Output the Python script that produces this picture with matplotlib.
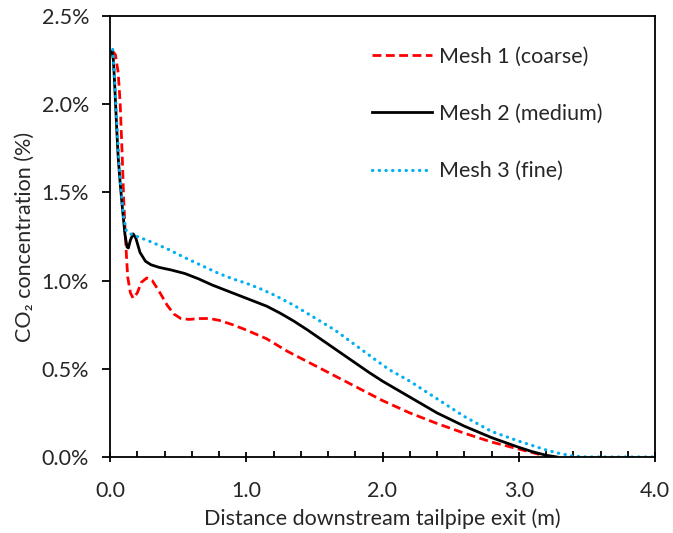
import matplotlib
matplotlib.use("Agg")
import matplotlib.pyplot as plt
from matplotlib.ticker import MultipleLocator, PercentFormatter

# DATA (CO2 concentration in %, distance in m)
MESH1_X = [0.02, 0.04, 0.06, 0.075, 0.09, 0.10, 0.11, 0.12, 0.13, 0.15, 0.17, 0.20, 0.23, 0.27,
           0.31, 0.36, 0.42, 0.47, 0.52, 0.58, 0.66, 0.73, 0.80, 0.90, 1.00, 1.15, 1.30, 1.50,
           1.70, 1.90, 2.00, 2.20, 2.40, 2.60, 2.80, 3.00, 3.10, 3.20, 3.25]
MESH1_Y = [2.30, 2.28, 2.18, 2.00, 1.70, 1.47, 1.30, 1.15, 1.02, 0.93, 0.90, 0.93, 0.99, 1.015,
           1.00, 0.94, 0.86, 0.81, 0.785, 0.78, 0.785, 0.785, 0.775, 0.75, 0.72, 0.67, 0.60, 0.52,
           0.44, 0.36, 0.32, 0.25, 0.19, 0.135, 0.085, 0.045, 0.025, 0.005, 0.0]

MESH2_X = [0.015, 0.025, 0.035, 0.05, 0.06, 0.075, 0.09, 0.10, 0.11, 0.125, 0.135, 0.15, 0.17,
           0.19, 0.22, 0.26, 0.30, 0.36, 0.45, 0.55, 0.65, 0.75, 0.85, 0.95, 1.05, 1.15, 1.25,
           1.35, 1.45, 1.60, 1.75, 1.90, 2.00, 2.20, 2.40, 2.60, 2.80, 3.00, 3.10, 3.20, 3.28]
MESH2_Y = [2.30, 2.25, 2.10, 1.85, 1.70, 1.55, 1.42, 1.34, 1.26, 1.19, 1.185, 1.23, 1.265,
           1.24, 1.16, 1.11, 1.09, 1.075, 1.06, 1.04, 1.01, 0.975, 0.945, 0.915, 0.885, 0.855, 0.815,
           0.77, 0.72, 0.64, 0.56, 0.48, 0.43, 0.34, 0.25, 0.175, 0.11, 0.055, 0.03, 0.01, 0.0]

MESH3_X = [0.02, 0.03, 0.05, 0.07, 0.09, 0.10, 0.12, 0.15, 0.20, 0.30, 0.42, 0.55, 0.66, 0.80,
           0.90, 1.00, 1.10, 1.20, 1.35, 1.50, 1.65, 1.80, 1.95, 2.05, 2.20, 2.40, 2.60, 2.80,
           3.00, 3.10, 3.20, 3.30, 3.40, 3.50, 4.00]
MESH3_Y = [2.31, 2.20, 1.90, 1.62, 1.44, 1.36, 1.28, 1.265, 1.25, 1.22, 1.18, 1.13, 1.09, 1.04,
           1.01, 0.985, 0.955, 0.92, 0.86, 0.79, 0.72, 0.635, 0.55, 0.495, 0.43, 0.33, 0.23, 0.145,
           0.09, 0.065, 0.04, 0.02, 0.005, 0.0, 0.0]

LABELS = ["Mesh 1 (coarse)", "Mesh 2 (medium)", "Mesh 3 (fine)"]

plt.rcParams["font.family"] = ["Lato", "DejaVu Sans"]
TEXT_COLOR = "#262626"
FS = 15.5


def main():
    fig = plt.figure(figsize=(6.73, 5.33), dpi=100)
    ax = fig.add_axes([110 / 673, 1 - 457 / 533, 545 / 673, 441 / 533])

    ax.plot(MESH1_X, MESH1_Y, color="#FF0000", lw=2.0, linestyle=(0, (3.2, 1.6)), label=LABELS[0])
    ax.plot(MESH2_X, MESH2_Y, color="black", lw=2.0, label=LABELS[1])
    ax.plot(MESH3_X, MESH3_Y, color="#00B0F0", lw=2.3, linestyle=(0, (0.1, 2.0)),
            dash_capstyle="round", label=LABELS[2])

    ax.set_xlim(0, 4.0)
    ax.set_ylim(0, 2.5)
    ax.xaxis.set_major_locator(MultipleLocator(1.0))
    ax.xaxis.set_minor_locator(MultipleLocator(0.2))
    ax.xaxis.set_major_formatter(lambda v, p: f"{v:.1f}")
    ax.yaxis.set_major_locator(MultipleLocator(0.5))
    ax.yaxis.set_major_formatter(PercentFormatter(100, decimals=1))

    for s in ax.spines.values():
        s.set_linewidth(1.3)
    ax.tick_params(axis="x", which="major", direction="inout", length=7, width=1.3,
                   labelsize=FS, colors=TEXT_COLOR, pad=14)
    ax.tick_params(axis="x", which="minor", direction="in", length=4, width=1.3)
    ax.tick_params(axis="y", which="major", direction="out", length=6, width=1.3,
                   labelsize=FS, colors=TEXT_COLOR, pad=9)
    ax.tick_params(axis="both", which="both", color="black")

    ax.set_xlabel("Distance downstream tailpipe exit (m)", fontsize=FS, color=TEXT_COLOR, labelpad=5)
    ax.set_ylabel("CO\u2082 concentration (%)", fontsize=FS, color=TEXT_COLOR, labelpad=5)

    ax.legend(loc="upper left", bbox_to_anchor=(372 / 673, 1 - 47 / 533),
              bbox_transform=fig.transFigure, frameon=False, fontsize=FS,
              handlelength=2.8, handletextpad=0.3, labelspacing=1.72,
              borderpad=0, borderaxespad=0, labelcolor=TEXT_COLOR)

    fig.savefig("out.png", dpi=100)


if __name__ == "__main__":
    main()
